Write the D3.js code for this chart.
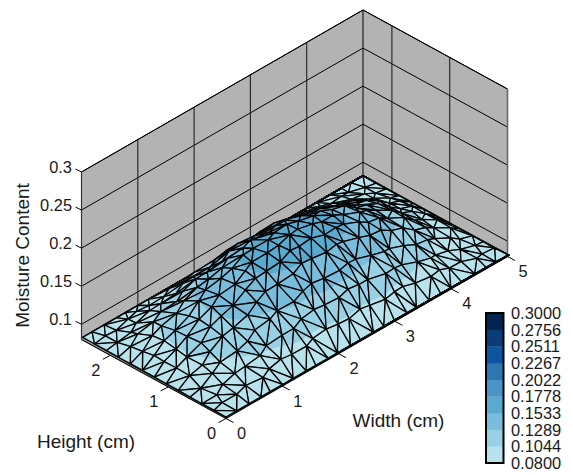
<!DOCTYPE html>
<html><head><meta charset="utf-8">
<script src="https://cdn.jsdelivr.net/npm/d3@7"></script>
<style>html,body{margin:0;padding:0;background:#fff}svg{display:block}text{font-family:"Liberation Sans",Arial,sans-serif;font-size:16.4px;fill:#1a1a1a}text.t{font-size:19px}</style>
</head><body><div id="c"></div>
<script>
const widthTicks=[0,1,2,3,4,5];
const heightTicks=[0,1,2];
const zTicks=[0.1,0.15,0.2,0.25,0.3];
const zTickLabels=["0.1","0.15","0.2","0.25","0.3"];
const levels=[0.08,0.1044,0.1289,0.1533,0.1778,0.2022,0.2267,0.2511,0.2756,0.3];
const levelLabels=["0.0800","0.1044","0.1289","0.1533","0.1778","0.2022","0.2267","0.2511","0.2756","0.3000"];
const bandColors=["#b8e2ec","#98d0e4","#7abcdb","#5aa9cf","#4a94c8","#2e76b2","#0d55a0","#0a3d78","#03234f"];
const gridW=[0,.2,.4,.6,.8,1,1.2,1.4,1.6,1.8,2,2.2,2.4,2.6,2.8,3,3.2,3.4,3.6,3.8,4,4.2,4.4,4.6,4.8,5];
const gridH=[0,.208,.417,.625,.833,1.042,1.25,1.458,1.667,1.875,2.083,2.292,2.5];
const leftEdgeW=[0,.002,.003,.005,.007,.008,.01,.012,.013,.015,.017,.018,.02];
const nudgeW=[.03,-.02,.01,.035,-.03,.005,-.015,.035,-.01,.02,-.035,.015,-.025,.03,0,-.02,.025,-.03,.01,.02,-.01,-.035,.03];
const nudgeH=[-.02,.03,.005,-.03,.015,.035,-.01,-.025,.025,0,.02,-.035,.01,.03,-.015,-.03,.02,.035,-.005];
const moisture=[
[.082,.082,.082,.082,.082,.082,.082,.082,.082,.082,.082,.082,.082,.082,.082,.082,.082,.082,.082,.082,.082,.082,.082,.082,.082,.082],
[.082,.084,.086,.089,.091,.094,.096,.098,.099,.100,.101,.102,.102,.102,.102,.101,.100,.099,.098,.096,.094,.091,.089,.086,.084,.082],
[.082,.085,.090,.094,.099,.103,.107,.111,.114,.117,.118,.120,.120,.120,.120,.118,.117,.114,.111,.107,.103,.099,.094,.090,.085,.082],
[.082,.088,.095,.102,.108,.114,.119,.124,.128,.132,.135,.137,.138,.138,.137,.135,.132,.128,.124,.119,.114,.108,.102,.095,.088,.082],
[.082,.091,.100,.108,.117,.124,.131,.137,.143,.147,.150,.153,.154,.154,.153,.150,.147,.143,.137,.131,.124,.117,.108,.100,.091,.082],
[.082,.092,.102,.111,.121,.129,.137,.144,.150,.155,.158,.161,.162,.162,.161,.158,.155,.150,.144,.137,.129,.121,.111,.102,.092,.082],
[.082,.092,.103,.113,.122,.131,.139,.146,.152,.157,.161,.164,.165,.165,.164,.161,.157,.152,.146,.139,.131,.122,.113,.103,.092,.082],
[.082,.092,.102,.111,.121,.129,.137,.144,.150,.155,.158,.161,.162,.162,.161,.158,.155,.150,.144,.137,.129,.121,.111,.102,.092,.082],
[.082,.091,.100,.108,.116,.123,.129,.135,.141,.145,.149,.152,.153,.153,.152,.149,.145,.141,.135,.129,.123,.116,.108,.100,.091,.082],
[.082,.089,.096,.102,.108,.114,.119,.124,.128,.132,.136,.138,.139,.139,.138,.136,.132,.128,.124,.119,.114,.108,.102,.096,.089,.082],
[.082,.086,.090,.094,.099,.103,.106,.110,.113,.116,.118,.120,.121,.121,.120,.118,.116,.113,.110,.106,.103,.099,.094,.090,.086,.082],
[.082,.084,.086,.088,.090,.092,.094,.096,.097,.099,.100,.101,.101,.101,.101,.100,.099,.097,.096,.094,.092,.090,.088,.086,.084,.082],
[.082,.082,.082,.082,.082,.082,.082,.082,.082,.082,.082,.082,.082,.082,.082,.082,.082,.082,.082,.082,.082,.082,.082,.082,.082,.082]];

const svg=d3.select("#c").append("svg").attr("width",573).attr("height",475);
const origin=[226,418.5];
const wX=d3.scaleLinear().domain([0,5]).range([0,281.5]);
const wY=d3.scaleLinear().domain([0,5]).range([0,-162]);
const hX=d3.scaleLinear().domain([0,2.5]).range([0,-144.5]);
const hY=d3.scaleLinear().domain([0,2.5]).range([0,-79]);
const zY=d3.scaleLinear().domain([0.08,0.3]).range([0,-167.5]);
const P=(w,h,z)=>[origin[0]+wX(w)+hX(h),origin[1]+wY(w)+hY(h)+zY(z)];
const line=d3.line();
const poly=pts=>line(pts)+"Z";
const Zmin=.08,Zmax=.3,Wmax=5,Hmax=2.5;

const gray="#b3b3b3";
svg.append("path").attr("d",poly([P(0,Hmax,Zmin),P(Wmax,Hmax,Zmin),P(Wmax,Hmax,Zmax),P(0,Hmax,Zmax)])).attr("fill",gray);
svg.append("path").attr("d",poly([P(Wmax,Hmax,Zmin),P(Wmax,0,Zmin),P(Wmax,0,Zmax),P(Wmax,Hmax,Zmax)])).attr("fill",gray);
svg.append("path").attr("d",poly([P(0,0,Zmin),P(Wmax,0,Zmin),P(Wmax,Hmax,Zmin),P(0,Hmax,Zmin)])).attr("fill",gray);
const seg=(a,b,sw=1,col="#000")=>svg.append("path").attr("d",line([a,b])).attr("stroke",col).attr("stroke-width",sw).attr("fill","none");
zTicks.forEach(z=>{seg(P(0,Hmax,z),P(Wmax,Hmax,z));seg(P(Wmax,Hmax,z),P(Wmax,0,z));});
widthTicks.slice(1,5).forEach(w=>seg(P(w,Hmax,Zmin),P(w,Hmax,Zmax),1.1,"#222"));
[1,2].forEach(h=>seg(P(Wmax,h,Zmin),P(Wmax,h,Zmax),1.1,"#222"));
seg(P(Wmax,Hmax,Zmin),P(Wmax,Hmax,Zmax));
seg(P(0,Hmax,Zmax),P(Wmax,Hmax,Zmax));
seg(P(Wmax,Hmax,Zmax),P(Wmax,0,Zmax));
seg(P(0,Hmax,Zmin),P(0,Hmax,Zmax),1.2,"#333");
seg(P(Wmax,0,Zmin),P(Wmax,0,Zmax),1.6,"#666");

const nodes=[];
gridH.forEach((h,j)=>gridW.forEach((w,i)=>{
  const inner=i>0&&i<gridW.length-1&&j>0&&j<gridH.length-1;
  const k=i+j*gridW.length;
  const nw=i===0?leftEdgeW[j]:w+(inner?nudgeW[k%nudgeW.length]:(j===0||j===gridH.length-1?nudgeW[i%nudgeW.length]*.6:0));
  const nh=h+(inner?nudgeH[k%nudgeH.length]:(i===gridW.length-1?nudgeH[j%nudgeH.length]*.6:0));
  nodes.push({w:nw,h:nh,z:moisture[j][i]});
}));
const del=d3.Delaunay.from(nodes,d=>d.w,d=>d.h);
const tris=[];
for(let t=0;t<del.triangles.length;t+=3){
  const a=nodes[del.triangles[t]],b=nodes[del.triangles[t+1]],c=nodes[del.triangles[t+2]];
  tris.push({pts:[a,b,c],depth:a.w*32.4+b.w*32.4+c.w*32.4+a.h*31.6+b.h*31.6+c.h*31.6});
}
tris.sort((p,q)=>q.depth-p.depth);

function clip(pts,val,keepAbove){
  const out=[];
  for(let i=0;i<pts.length;i++){
    const A=pts[i],B=pts[(i+1)%pts.length];
    const ina=keepAbove?A.z>=val:A.z<=val, inb=keepAbove?B.z>=val:B.z<=val;
    if(ina)out.push(A);
    if(ina!==inb){const t=(val-A.z)/(B.z-A.z);out.push({w:A.w+t*(B.w-A.w),h:A.h+t*(B.h-A.h),z:val});}
  }
  return out;
}
const meshG=svg.append("g");
tris.forEach(t=>{
  const g=meshG.append("g");
  bandColors.forEach((col,i)=>{
    let p=clip(t.pts,levels[i],true);
    if(p.length)p=clip(p,levels[i+1],false);
    if(p.length>2)g.append("path").attr("d",poly(p.map(n=>P(n.w,n.h,n.z)))).attr("fill",col).attr("stroke",col).attr("stroke-width",.4);
  });
  g.append("path").attr("d",poly(t.pts.map(n=>P(n.w,n.h,n.z)))).attr("fill","none").attr("stroke","#000").attr("stroke-width",1.3).attr("stroke-linejoin","round");
});

seg(P(0,0,Zmin),P(Wmax,0,Zmin),1.1);
seg(P(0,0,Zmin),P(0,Hmax,Zmin),1.1);
widthTicks.forEach(w=>{
  const p=P(w,0,Zmin);
  seg(p,[p[0]+7.5,p[1]+4]);
  svg.append("text").attr("x",p[0]+15.5).attr("y",p[1]+20.5).attr("text-anchor","middle").text(w);
});
heightTicks.forEach(h=>{
  const p=P(0,h,Zmin);
  seg(p,[p[0]-7.5,p[1]+4]);
  svg.append("text").attr("x",p[0]-14.5).attr("y",p[1]+20.5).attr("text-anchor","middle").text(h);
});
zTicks.forEach((z,i)=>{
  const p=P(0,Hmax,z);
  seg(p,[p[0]-6,p[1]-3]);
  svg.append("text").attr("x",72).attr("y",p[1]+1).attr("text-anchor","end").text(zTickLabels[i]);
});
svg.append("text").attr("class","t").attr("transform","translate(29,255.5) rotate(-90)").attr("text-anchor","middle").text("Moisture Content");
svg.append("text").attr("class","t").attr("x",86).attr("y",448).attr("text-anchor","middle").text("Height (cm)");
svg.append("text").attr("class","t").attr("x",398.5).attr("y",426.5).attr("text-anchor","middle").text("Width (cm)");

const cb=d3.scaleLinear().domain([0,9]).range([463,313]);
bandColors.forEach((col,i)=>svg.append("rect").attr("x",486).attr("width",17.5).attr("y",cb(i+1)).attr("height",cb(i)-cb(i+1)+.3).attr("fill",col));
svg.append("rect").attr("x",486).attr("y",313).attr("width",17.5).attr("height",150).attr("fill","none").attr("stroke","#000").attr("stroke-width",2);
levelLabels.forEach((l,i)=>svg.append("text").attr("x",511).attr("y",cb(i)+6).text(l));
</script></body></html>
